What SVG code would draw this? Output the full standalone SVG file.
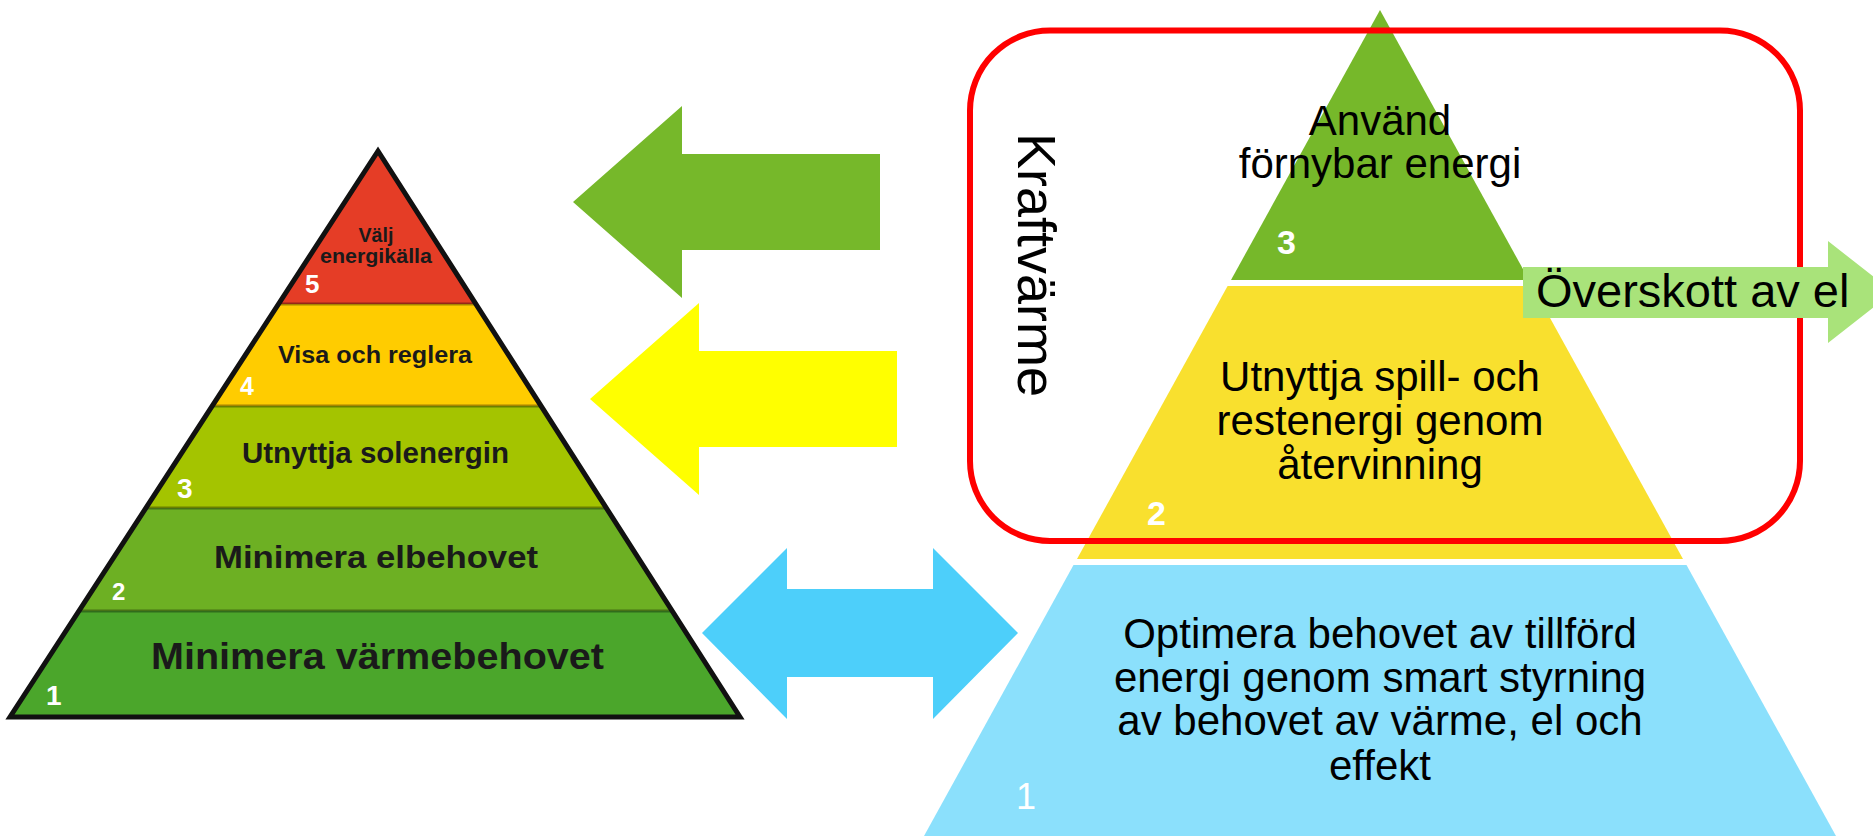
<svg xmlns="http://www.w3.org/2000/svg" width="1873" height="836" viewBox="0 0 1873 836">
<style>
.lt{font-family:"Liberation Sans",Arial,sans-serif;font-weight:bold;fill:#1a1a1a;text-anchor:middle}
.ln{font-family:"Liberation Sans",Arial,sans-serif;font-weight:bold;fill:#ffffff}
.rt{font-family:"Liberation Sans",Arial,sans-serif;font-size:42px;fill:#000;text-anchor:middle}
.rn{font-family:"Liberation Sans",Arial,sans-serif;font-size:34px;font-weight:bold;fill:#fff}
.sep{stroke:#000;stroke-opacity:0.35;stroke-width:3}
</style>
<defs>
<clipPath id="lclip"><polygon points="378,151 10,717 740,717"/></clipPath>
</defs>
<rect width="1873" height="836" fill="#fff"/>

<g id="left-pyramid">
<g clip-path="url(#lclip)">
<rect x="0" y="140" width="760" height="164" fill="#E53D26"/>
<rect x="0" y="304" width="760" height="102" fill="#FFCC00"/>
<rect x="0" y="406" width="760" height="102" fill="#A4C400"/>
<rect x="0" y="508" width="760" height="103" fill="#6DB023"/>
<rect x="0" y="611" width="760" height="110" fill="#4BA62B"/>
<line class="sep" x1="0" y1="304" x2="760" y2="304"/>
<line class="sep" x1="0" y1="406" x2="760" y2="406"/>
<line class="sep" x1="0" y1="508" x2="760" y2="508"/>
<line class="sep" x1="0" y1="611" x2="760" y2="611"/>
</g>
<polygon points="378,151 10,717 740,717" fill="none" stroke="#111" stroke-width="5"/>
<text class="lt" x="376" y="242" font-size="20" textLength="35" lengthAdjust="spacingAndGlyphs">Välj</text>
<text class="lt" x="376" y="263" font-size="20" textLength="112" lengthAdjust="spacingAndGlyphs">energikälla</text>
<text class="lt" x="375" y="363" font-size="24" textLength="194" lengthAdjust="spacingAndGlyphs">Visa och reglera</text>
<text class="lt" x="375.5" y="463" font-size="29" textLength="267" lengthAdjust="spacingAndGlyphs">Utnyttja solenergin</text>
<text class="lt" x="376" y="568" font-size="32" textLength="324" lengthAdjust="spacingAndGlyphs">Minimera elbehovet</text>
<text class="lt" x="377.5" y="669" font-size="36" textLength="453" lengthAdjust="spacingAndGlyphs">Minimera värmebehovet</text>
<text class="ln" x="305" y="293" font-size="26">5</text>
<text class="ln" x="240" y="395" font-size="25">4</text>
<text class="ln" x="177" y="498" font-size="28">3</text>
<text class="ln" x="112" y="600" font-size="24">2</text>
<text class="ln" x="46" y="705" font-size="28">1</text>
</g>

<g id="right-pyramid">
<polygon points="1380,10 1529,280 1231,280" fill="#76B82A"/>
<polygon points="1227.6,286 1532.4,286 1683,559 1077,559" fill="#F9E02E"/>
<polygon points="1073.5,565 1686.5,565 1836,836 924,836" fill="#8BE0FC"/>
<text class="rt" x="1380" y="135">Använd</text>
<text class="rt" x="1380" y="178">förnybar energi</text>
<text class="rn" x="1277" y="254">3</text>
<text class="rt" x="1380" y="391">Utnyttja spill- och</text>
<text class="rt" x="1380" y="435">restenergi genom</text>
<text class="rt" x="1380" y="479">återvinning</text>
<text class="rn" x="1147" y="525">2</text>
<text class="rt" x="1380" y="648">Optimera behovet av tillförd</text>
<text class="rt" x="1380" y="692">energi genom smart styrning</text>
<text class="rt" x="1380" y="735">av behovet av värme, el och</text>
<text class="rt" x="1380" y="780">effekt</text>
<text x="1016" y="809" font-family="'Liberation Sans',Arial,sans-serif" font-size="36" fill="#fff">1</text>
</g>

<g id="kraftvarme">
<rect x="970" y="30.5" width="830" height="510.5" rx="80" ry="80" fill="none" stroke="#FF0000" stroke-width="6"/>
<text transform="translate(1018,133) rotate(90)" font-family="'Liberation Sans',Arial,sans-serif" font-size="54" fill="#000">Kraftvärme</text>
</g>

<g id="overskott">
<polygon points="1523,267 1828,267 1828,241 1893,292 1828,343 1828,318 1523,318" fill="#A9E37A"/>
<text x="1536" y="307" font-family="'Liberation Sans',Arial,sans-serif" font-size="47" fill="#000">Överskott av el</text>
</g>

<g id="connectors">
<polygon points="573,202 682,106 682,154 880,154 880,250 682,250 682,298" fill="#76B82A"/>
<polygon points="590,399 699,303 699,351 897,351 897,447 699,447 699,495" fill="#FFFF00"/>
<polygon points="702,633 787,548 787,589 933,589 933,548 1018,633 933,719 933,677 787,677 787,719" fill="#4DCFFA"/>
</g>
</svg>
